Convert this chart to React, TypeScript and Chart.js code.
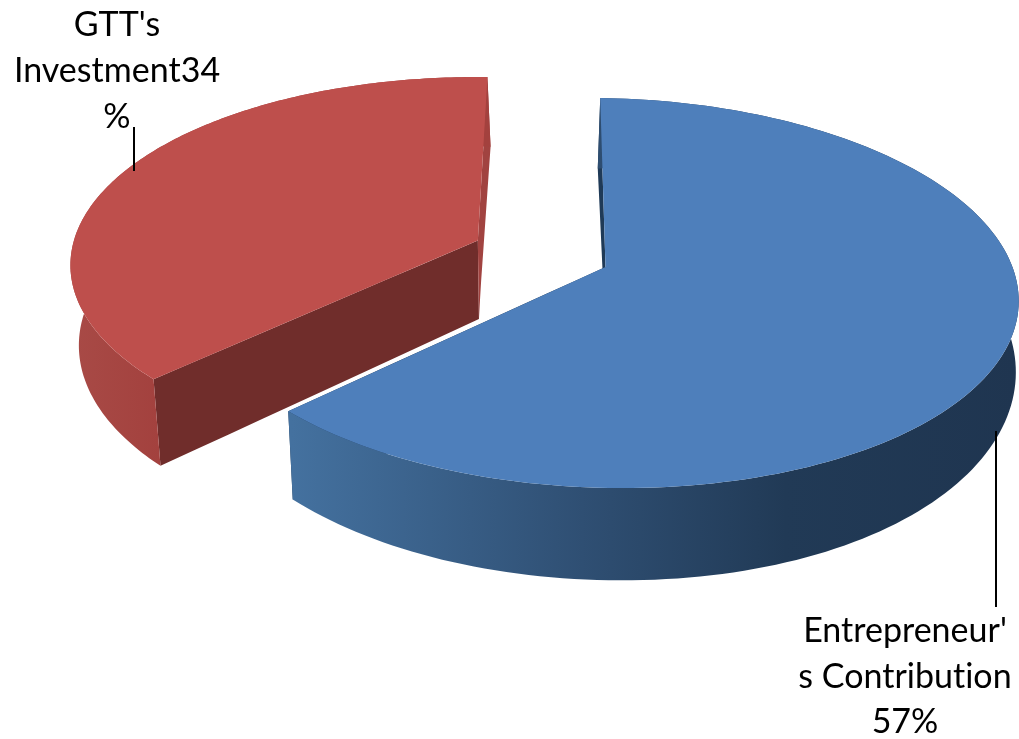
import React, { useEffect, useRef } from "react";
import { Chart, registerables } from "chart.js";

Chart.register(...registerables);

const categories = ["Entrepreneur's Contribution", "GTT's Investment"];
const shares = [57, 34];
const sliceOffsets = [0, 217];
const topColors = ["#4e7fbb", "#be4f4c"];
const startWallColors = ["#1f3a57", "#702d2b"];
const endWallColors = ["#1f3a57", "#a14340"];
const labelLines = [
  ["Entrepreneur'", "s Contribution", "57%"],
  ["GTT's", "Investment34", "%"],
];

// Tilted-disc camera used to project each slice of the pie
const view = {
  across: 409,
  along: 191.5,
  perspective: 0.1333,
  depth: 80,
  vanishX: 540,
  shearX: 0.02,
  shearY: 0.015,
};

type Pt = { x: number; y: number };

function project(cx: number, cy: number, u: number, v: number, z: number): Pt {
  const w = 1 - view.perspective * v;
  const x0 = (view.across * u) / w;
  const y0 = (view.along * v) / w;
  const px = x0 + view.shearX * y0;
  const py = y0 + view.shearY * x0;
  const side = cx + px - view.vanishX;
  const k = (side < 0 ? 0.018 : 0.006) + 0.05 * Math.max(0, -v - 0.3);
  // The wall foreshortens as it turns away on the right-hand side
  const wall = view.depth * (1 - 0.15 * Math.max(0, u) * Math.max(0, 1 - v));
  return {
    x: cx + px - z * k * side,
    y: cy + py + (z * wall) / w,
  };
}

function fillPath(ctx: CanvasRenderingContext2D, pts: Pt[], fill: string | CanvasGradient) {
  ctx.beginPath();
  pts.forEach((p, i) => (i ? ctx.lineTo(p.x, p.y) : ctx.moveTo(p.x, p.y)));
  ctx.closePath();
  ctx.fillStyle = fill;
  ctx.fill();
}

function wallGradient(ctx: CanvasRenderingContext2D, index: number) {
  if (index === 0) {
    const g = ctx.createLinearGradient(292, 0, 1018, 0);
    g.addColorStop(0, "#44719f");
    g.addColorStop(0.4, "#2f4f73");
    g.addColorStop(0.68, "#213a56");
    g.addColorStop(1, "#1f3550");
    return g;
  }
  const g = ctx.createLinearGradient(74, 0, 160, 0);
  g.addColorStop(0, "#a84a46");
  g.addColorStop(1, "#a3413e");
  return g;
}

const pie3d = {
  id: "pie3d",
  beforeDatasetDraw(chart: any) {
    const ctx: CanvasRenderingContext2D = chart.ctx;
    const arcs = chart.getDatasetMeta(0).data;
    // The exploded slice sits behind, so it is painted first
    for (let i = arcs.length - 1; i >= 0; i--) {
      const el = arcs[i];
      const { x: cx, y: cy, startAngle, endAngle, outerRadius } = el;
      const mid = (startAngle + endAngle) / 2;
      const d = (el.options.offset || 0) / 4 / outerRadius;
      const ou = d * Math.cos(mid);
      const ov = d * Math.sin(mid);
      const rim: [number, number][] = [];
      const steps = 160;
      for (let s = 0; s <= steps; s++) {
        const t = startAngle + ((endAngle - startAngle) * s) / steps;
        rim.push([ou + Math.cos(t), ov + Math.sin(t)]);
      }
      const first = rim[0];
      const last = rim[rim.length - 1];
      const at = (p: [number, number], z: number) => project(cx, cy, p[0], p[1], z);
      const spoke = (end: [number, number]) => {
        const out: [number, number][] = [];
        for (let s = 0; s <= 10; s++) out.push([ou + ((end[0] - ou) * s) / 10, ov + ((end[1] - ov) * s) / 10]);
        return out;
      };
      const spokeA = spoke(first);
      const spokeB = spoke(last);

      // Flat faces along the two cut edges
      fillPath(ctx, [...spokeA.map((p) => at(p, 0)), ...spokeA.slice().reverse().map((p) => at(p, 1))], startWallColors[i]);
      fillPath(ctx, [...spokeB.map((p) => at(p, 0)), ...spokeB.slice().reverse().map((p) => at(p, 1))], endWallColors[i]);
      // Curved outer wall
      fillPath(ctx, [...rim.map((p) => at(p, 0)), ...rim.slice().reverse().map((p) => at(p, 1))], wallGradient(ctx, i));
      // Top face
      fillPath(ctx, [at([ou, ov], 0), ...rim.map((p) => at(p, 0))], el.options.backgroundColor);
    }
    return false;
  },
  afterDraw(chart: any) {
    const ctx: any = chart.ctx;
    ctx.save();
    ctx.strokeStyle = "#000000";
    ctx.lineWidth = 2;
    ctx.beginPath();
    ctx.moveTo(134, 127);
    ctx.lineTo(134, 171);
    ctx.moveTo(996, 431);
    ctx.lineTo(996, 607);
    ctx.stroke();
    ctx.fillStyle = "#000000";
    ctx.font = "34px Lato";
    ctx.letterSpacing = "0.01px";
    ctx.textAlign = "center";
    ctx.textBaseline = "alphabetic";
    labelLines[0].forEach((line, i) => ctx.fillText(line, 905, 642 + i * 45.5));
    labelLines[1].forEach((line, i) => ctx.fillText(line, 117, 36 + i * 46));
    ctx.restore();
  },
};

export default function App() {
  const ref = useRef<HTMLCanvasElement>(null);
  useEffect(() => {
    const chart = new Chart(ref.current!, {
      type: "pie",
      data: {
        labels: categories,
        datasets: [{ data: shares, backgroundColor: topColors, offset: sliceOffsets, borderWidth: 0 }],
      },
      options: {
        animation: false,
        responsive: false,
        devicePixelRatio: 1,
        rotation: -0.3,
        layout: { padding: { left: 192, right: 0, top: 0, bottom: 205 } },
        plugins: { legend: { display: false }, tooltip: { enabled: false } },
      },
      plugins: [pie3d],
    } as any);
    return () => chart.destroy();
  }, []);
  return (
    <div style={{ position: "fixed", left: 0, top: 0, width: 1019, height: 739, background: "#ffffff" }}>
      <canvas ref={ref} width={1019} height={739} style={{ display: "block" }} />
    </div>
  );
}
